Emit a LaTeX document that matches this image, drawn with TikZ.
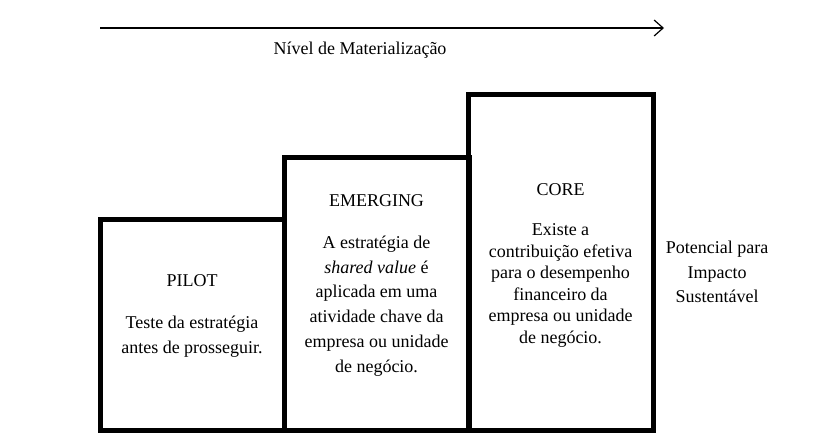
\documentclass[tikz,border=0pt]{standalone}
\usepackage{fontspec}
\setmainfont{Liberation Serif}
\usetikzlibrary{arrows.meta}
\begin{document}
\begin{tikzpicture}[x=1pt,y=-1pt,
  stagebox/.style={draw=black, line width=5pt, rectangle, anchor=north west, inner sep=0pt, outer sep=0pt, fill=none},
  txt/.style={align=center, inner sep=0pt, font=\fontsize{18}{24.8}\selectfont},
  txtcore/.style={align=center, inner sep=0pt, font=\fontsize{18}{21.5}\selectfont},
  axis/.style={line width=1.2pt, -{Straight Barb[length=9pt, width=16pt, line width=1.2pt]}}]
\useasboundingbox (0,0) rectangle (833,445);
\fill[white] (0,0) rectangle (833,445);
% axis arrow
\coordinate (a0) at (100,28);
\coordinate (a1) at (664,28);
\draw[axis] (a0) -- (a1);
\node[txt] (axislabel) at (360,50) {Nível de Materialização};
% boxes
\node[stagebox, minimum width=184pt, minimum height=211pt] (pilot) at (100,219) {};
\node[stagebox, minimum width=185pt, minimum height=273pt] (emerging) at (284,157) {};
\node[stagebox, minimum width=185pt, minimum height=336pt] (core) at (468,94) {};
% texts
\node[txt] (pilott) at (192,281) {PILOT};
\node[txt] (pilotb) at (192,337) {Teste da estratégia\\antes de prosseguir.};
\node[txt] (emergt) at (376.5,201) {EMERGING};
\node[txt] (emergb) at (376.5,306) {A estratégia de\\\textit{shared value} é\\aplicada em uma\\atividade chave da\\empresa ou unidade\\de negócio.};
\node[txt] (coret) at (560.5,190) {CORE};
\node[txtcore] (coreb) at (560.5,285.5) {Existe a\\contribuição efetiva\\para o desempenho\\financeiro da\\empresa ou unidade\\de negócio.};
\node[txt] (impact) at (717,272) {Potencial para\\Impacto\\Sustentável};
\end{tikzpicture}
\end{document}
